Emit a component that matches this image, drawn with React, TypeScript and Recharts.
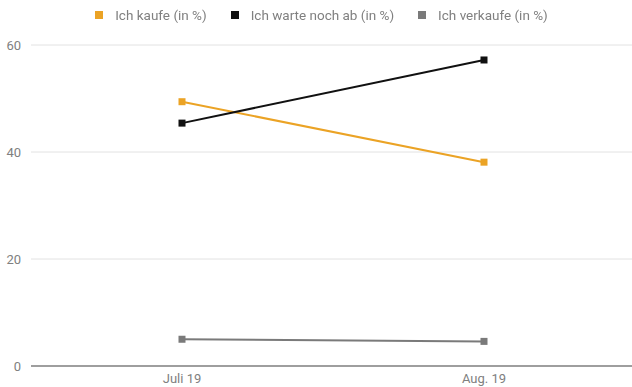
import React from 'react';
import { LineChart, Line, XAxis, YAxis, CartesianGrid, Legend } from 'recharts';

const months = ['Juli 19', 'Aug. 19'];
const kaufe = [49.4, 38.1];
const warte = [45.4, 57.2];
const verkaufe = [5.0, 4.6];
const yTicks = [0, 20, 40, 60];
const seriesNames = ['Ich kaufe (in %)', 'Ich warte noch ab (in %)', 'Ich verkaufe (in %)'];

const data = months.map((m, i) => ({
  month: m,
  kaufe: kaufe[i],
  warte: warte[i],
  verkaufe: verkaufe[i],
}));

const ORANGE = '#eba325';
const BLACK = '#111111';
const GREY = '#7a7a7a';
const seriesColors = [ORANGE, BLACK, GREY];

const SquareDot = ({ cx, cy, stroke }: any) => {
  if (cx == null || cy == null) return null;
  return <rect x={cx - 3.5} y={cy - 3.5} width={7} height={7} fill={stroke} />;
};

const renderLegend = () => (
  <div style={{ display: 'flex', justifyContent: 'center', alignItems: 'center', fontSize: 13.5, color: '#808080', height: 16, paddingLeft: 8 }}>
    {seriesNames.map((n, i) => (
      <div key={n} style={{ display: 'flex', alignItems: 'center', marginRight: i < seriesNames.length - 1 ? 24 : 0 }}>
        <span style={{ display: 'inline-block', width: 8, height: 8, background: seriesColors[i], marginRight: 12 }} />
        <span>{n}</span>
      </div>
    ))}
  </div>
);

export default function App() {
  return (
    <div style={{ position: 'fixed', left: 0, top: 0, width: 632, height: 387, background: '#fff', fontFamily: 'Roboto, sans-serif' }}>
      <LineChart width={632} height={387} data={data} margin={{ top: 29, right: -3, left: 0, bottom: 0 }}>
        <CartesianGrid vertical={false} stroke="#e2e2e2" />
        <Legend verticalAlign="top" align="center" content={renderLegend} wrapperStyle={{ top: 7 }} />
        <XAxis
          dataKey="month"
          tickLine={false}
          stroke="#9e9e9e"
          strokeWidth={2}
          height={21}
          padding={{ left: 151, right: 151 }}
          tick={{ fill: '#808080', fontSize: 13 }}
          tickMargin={2}
        />
        <YAxis
          width={31}
          domain={[0, 60]}
          ticks={yTicks}
          axisLine={false}
          tickLine={false}
          tick={{ fill: '#808080', fontSize: 13 }}
          tickMargin={4}
        />
        <Line name={seriesNames[0]} dataKey="kaufe" stroke={ORANGE} strokeWidth={2} dot={<SquareDot />} isAnimationActive={false} />
        <Line name={seriesNames[1]} dataKey="warte" stroke={BLACK} strokeWidth={2} dot={<SquareDot />} isAnimationActive={false} />
        <Line name={seriesNames[2]} dataKey="verkaufe" stroke={GREY} strokeWidth={2} dot={<SquareDot />} isAnimationActive={false} />
      </LineChart>
    </div>
  );
}
